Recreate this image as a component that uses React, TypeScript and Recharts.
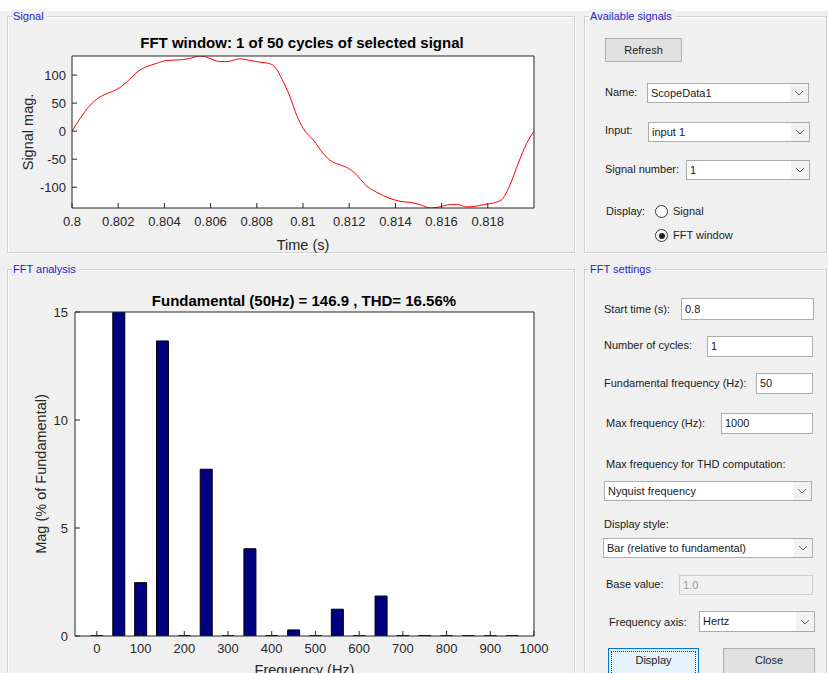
import React from "react"
import { Bar, BarChart, CartesianGrid, Line, LineChart, XAxis, YAxis } from "recharts"

// signal window (one cycle starting at 0.8 s)
const timeS = [
	0.8, 0.80035, 0.80078, 0.80121, 0.80157, 0.80193, 0.80237, 0.80287, 0.80323, 0.80367,
	0.8041, 0.8046, 0.80504, 0.80554, 0.80583, 0.80612, 0.80641, 0.8067, 0.80727, 0.8077,
	0.80814, 0.8085, 0.80879, 0.80908, 0.80944, 0.80973, 0.81001, 0.81045, 0.81088, 0.81124,
	0.8116, 0.81196, 0.81225, 0.81276, 0.81319, 0.81377, 0.8142, 0.81463, 0.81507, 0.8155,
	0.81593, 0.81636, 0.81672, 0.81709, 0.81745, 0.81781, 0.81824, 0.8186, 0.81896, 0.81932,
	0.81968, 0.82,
]
const signalMag = [
	0, 22.5, 46, 61, 68, 74, 87.6, 107, 115, 121,
	126, 127, 129, 134, 132, 127, 124, 124, 129, 126,
	123, 121, 114, 93.5, 61, 28, 4.7, -16, -40, -54,
	-60, -66, -75, -98, -109, -120, -125, -127, -131, -137,
	-135, -131, -131, -135, -134, -131, -128, -122, -96, -57,
	-22, 0,
]
const timeTicks = [0.8, 0.802, 0.804, 0.806, 0.808, 0.81, 0.812, 0.814, 0.816, 0.818]
const signalTicks = [-100, -50, 0, 50, 100]

// harmonic spectrum, % of fundamental
const freqHz = [0, 50, 100, 150, 200, 250, 300, 350, 400, 450, 500, 550, 600, 650, 700, 750, 800, 850, 900, 950]
const magPct = [0.01, 100, 2.47, 13.66, 0.01, 7.72, 0.01, 4.04, 0.02, 0.28, 0.01, 1.24, 0.01, 1.85, 0.02, 0.02, 0.01, 0.01, 0.01, 0.01]
const freqTicks = [0, 100, 200, 300, 400, 500, 600, 700, 800, 900, 1000]
const pctTicks = [0, 5, 10, 15]

const signalData = timeS.map((t, i) => ({ t, v: signalMag[i] }))
const fftData = freqHz.map((f, i) => ({ f, mag: magPct[i] }))

const plotFont = '"Liberation Sans", Arial, Helvetica, sans-serif'
const axisColor = "#262626"
const tickStyle = { fill: axisColor, fontSize: 13, fontFamily: plotFont }
const labelStyle = { fill: axisColor, fontSize: 14.5, fontFamily: plotFont }

const ui: React.CSSProperties = {
	fontFamily: '"Liberation Sans", Arial, sans-serif',
	fontSize: 11,
	color: "#1a1a1a",
}

function Txt({ x, y, children, color }: { x: number; y: number; children: React.ReactNode; color?: string }) {
	return (
		<div style={{ ...ui, position: "absolute", left: x, top: y - 7, lineHeight: "14px", whiteSpace: "nowrap", color: color || ui.color }}>
			{children}
		</div>
	)
}

function Panel({ x, y, w, h, title }: { x: number; y: number; w: number; h: number; title: string }) {
	return (
		<div
			style={{
				position: "absolute",
				left: x,
				top: y,
				width: w,
				height: h,
				border: "1px solid #cfcfcf",
				boxShadow: "inset 1px 1px 0 #fff, 1px 1px 0 #fff",
				boxSizing: "border-box",
			}}
		>
			<div
				style={{
					...ui,
					position: "absolute",
					left: 4,
					top: -8,
					padding: "0 3px 0 1px",
					background: "#f0f0f0",
					color: "#2424c8",
					lineHeight: "14px",
				}}
			>
				{title}
			</div>
		</div>
	)
}

function Chevron() {
	return (
		<svg width={10} height={6} style={{ display: "block" }}>
			<polyline points="1,1 5,5 9,1" fill="none" stroke="#666" strokeWidth={1} />
		</svg>
	)
}

function DropDown({ x, y, w, h, text }: { x: number; y: number; w: number; h: number; text: string }) {
	return (
		<div
			style={{
				position: "absolute",
				left: x,
				top: y,
				width: w,
				height: h,
				border: "1px solid #acacac",
				background: "#fff",
				boxSizing: "border-box",
			}}
		>
			<div style={{ ...ui, position: "absolute", left: 3, top: 0, lineHeight: `${h - 2}px` }}>{text}</div>
			<div
				style={{
					position: "absolute",
					right: 0,
					top: 0,
					width: 18,
					height: h - 2,
					background: "#f2f2f2",
					display: "flex",
					alignItems: "center",
					justifyContent: "center",
				}}
			>
				<Chevron />
			</div>
		</div>
	)
}

function TextBox({ x, y, w, h, text, disabled }: { x: number; y: number; w: number; h: number; text: string; disabled?: boolean }) {
	return (
		<div
			style={{
				position: "absolute",
				left: x,
				top: y,
				width: w,
				height: h,
				border: disabled ? "1px solid #cccccc" : "1px solid #acacac",
				background: disabled ? "#f0f0f0" : "#fff",
				boxSizing: "border-box",
			}}
		>
			<div style={{ ...ui, position: "absolute", left: 3, top: 0, lineHeight: `${h - 2}px`, color: disabled ? "#9a9a9a" : ui.color }}>
				{text}
			</div>
		</div>
	)
}

function Button({ x, y, w, h, text, focused }: { x: number; y: number; w: number; h: number; text: string; focused?: boolean }) {
	return (
		<div
			style={{
				position: "absolute",
				left: x,
				top: y,
				width: w,
				height: h,
				border: focused ? "1px solid #0078d7" : "1px solid #adadad",
				background: focused ? "#e5f1fb" : "#e1e1e1",
				boxSizing: "border-box",
			}}
		>
			{focused && (
				<div style={{ position: "absolute", left: 2, top: 2, right: 2, bottom: 2, border: "1px dotted #333" }} />
			)}
			<div style={{ ...ui, position: "absolute", left: 0, right: 0, top: 0, textAlign: "center", lineHeight: "22px" }}>{text}</div>
		</div>
	)
}

function Radio({ x, y, checked }: { x: number; y: number; checked?: boolean }) {
	return (
		<div
			style={{
				position: "absolute",
				left: x - 6,
				top: y - 6,
				width: 13,
				height: 13,
				borderRadius: "50%",
				border: "1px solid #333",
				background: "#fff",
				boxSizing: "border-box",
			}}
		>
			{checked && (
				<div style={{ position: "absolute", left: 2.5, top: 2.5, width: 6, height: 6, borderRadius: "50%", background: "#222" }} />
			)}
		</div>
	)
}

function SignalPlot() {
	return (
		<div style={{ position: "absolute", left: 0, top: 30 }}>
			<LineChart width={580} height={235} data={signalData} margin={{ top: 25, right: 45, bottom: 12, left: 0 }}>
				<CartesianGrid horizontal={false} vertical={false} fill="#fff" fillOpacity={1} />
				<XAxis
					dataKey="t"
					type="number"
					domain={[0.8, 0.82]}
					ticks={timeTicks}
					allowDataOverflow
					height={45}
					tickSize={-5}
					tickMargin={14}
					tick={tickStyle}
					tickFormatter={(v: number) => String(+v.toFixed(3))}
					stroke={axisColor}
					label={{ value: "Time (s)", position: "insideBottom", offset: 3, style: labelStyle }}
				/>
				<XAxis xAxisId="top" orientation="top" dataKey="t" type="number" domain={[0.8, 0.82]} ticks={timeTicks} allowDataOverflow height={1} tickSize={-5} tick={false} stroke={axisColor} />
				<YAxis
					type="number"
					domain={[-137, 134]}
					ticks={signalTicks}
					allowDataOverflow
					width={72}
					tickSize={-5}
					tickMargin={11}
					tick={tickStyle}
					stroke={axisColor}
					label={{ value: "Signal mag.", angle: -90, position: "insideLeft", offset: 28, style: { ...labelStyle, textAnchor: "middle" } }}
				/>
				<YAxis yAxisId="r" orientation="right" type="number" domain={[-137, 134]} ticks={signalTicks} allowDataOverflow width={1} tickSize={-5} tick={false} stroke={axisColor} />
				<Line dataKey="v" type="monotone" stroke="#ff0000" strokeWidth={1} dot={false} isAnimationActive={false} />
			</LineChart>
		</div>
	)
}

function FftPlot() {
	return (
		<div style={{ position: "absolute", left: 0, top: 280 }}>
			<BarChart width={580} height={400} data={fftData} margin={{ top: 31, right: 45, bottom: 0, left: 0 }}>
				<CartesianGrid horizontal={false} vertical={false} fill="#fff" fillOpacity={1} />
				<XAxis
					dataKey="f"
					type="number"
					domain={[-50, 1000]}
					ticks={freqTicks}
					allowDataOverflow
					height={44}
					tickSize={-5}
					tickMargin={13}
					tick={tickStyle}
					stroke={axisColor}
					label={{ value: "Frequency (Hz)", position: "insideBottom", offset: 5, style: labelStyle }}
				/>
				<XAxis xAxisId="top" orientation="top" dataKey="f" type="number" domain={[-50, 1000]} ticks={freqTicks} allowDataOverflow height={1} tickSize={-5} tick={false} stroke={axisColor} />
				<YAxis
					type="number"
					domain={[0, 15]}
					ticks={pctTicks}
					allowDataOverflow
					width={75}
					tickSize={-5}
					tickMargin={12}
					tick={tickStyle}
					stroke={axisColor}
					label={{ value: "Mag (% of Fundamental)", angle: -90, position: "insideLeft", offset: 41, style: { ...labelStyle, textAnchor: "middle" } }}
				/>
				<YAxis yAxisId="r" orientation="right" type="number" domain={[0, 15]} ticks={pctTicks} allowDataOverflow width={1} tickSize={-5} tick={false} stroke={axisColor} />
				<Bar dataKey="mag" barSize={12} fill="#000080" stroke="#000" strokeWidth={1} isAnimationActive={false} />
			</BarChart>
		</div>
	)
}

const titleStyle: React.CSSProperties = {
	position: "absolute",
	fontFamily: plotFont,
	fontWeight: "bold",
	fontSize: 15,
	color: "#000",
	whiteSpace: "nowrap",
	transform: "translate(-50%, -50%)",
	lineHeight: "18px",
}

export default function App() {
	return (
		<div style={{ position: "absolute", left: 0, top: 0, width: 828, height: 673, overflow: "hidden", background: "#f0f0f0" }}>
			<div style={{ position: "absolute", left: 0, top: 0, width: 828, height: 11, background: "#fff" }} />

			<Panel x={7} y={16} w={568} h={237} title="Signal" />
			<Panel x={584} y={16} w={243} h={237} title="Available signals" />
			<Panel x={7} y={269} w={568} h={420} title="FFT analysis" />
			<Panel x={584} y={269} w={243} h={420} title="FFT settings" />

			<SignalPlot />
			<div style={{ ...titleStyle, left: 302, top: 43 }}>FFT window: 1 of 50 cycles of selected signal</div>

			<FftPlot />
			<div style={{ ...titleStyle, left: 304, top: 301 }}>Fundamental (50Hz) = 146.9 , THD= 16.56%</div>

			{/* Available signals */}
			<Button x={605} y={38} w={77} h={24} text="Refresh" />
			<Txt x={605} y={92}>Name:</Txt>
			<DropDown x={647} y={83} w={162} h={20} text="ScopeData1" />
			<Txt x={605} y={130}>Input:</Txt>
			<DropDown x={648} y={122} w={162} h={20} text="input 1" />
			<Txt x={605} y={169}>Signal number:</Txt>
			<DropDown x={686} y={160} w={124} h={20} text="1" />
			<Txt x={606} y={211}>Display:</Txt>
			<Radio x={661} y={211} />
			<Txt x={673} y={211}>Signal</Txt>
			<Radio x={661} y={235} checked />
			<Txt x={673} y={235}>FFT window</Txt>

			{/* FFT settings */}
			<Txt x={604} y={309}>Start time (s):</Txt>
			<TextBox x={681} y={298} w={133} h={22} text="0.8" />
			<Txt x={604} y={345}>Number of cycles:</Txt>
			<TextBox x={707} y={336} w={106} h={21} text="1" />
			<Txt x={604} y={383}>Fundamental frequency (Hz):</Txt>
			<TextBox x={756} y={373} w={57} h={21} text="50" />
			<Txt x={606} y={423}>Max frequency (Hz):</Txt>
			<TextBox x={721} y={413} w={92} h={21} text="1000" />
			<Txt x={606} y={464}>Max frequency for THD computation:</Txt>
			<DropDown x={604} y={481} w={208} h={20} text="Nyquist frequency" />
			<Txt x={604} y={524}>Display style:</Txt>
			<DropDown x={603} y={538} w={210} h={20} text="Bar (relative to fundamental)" />
			<Txt x={606} y={584}>Base value:</Txt>
			<TextBox x={679} y={575} w={134} h={20} text="1.0" disabled />
			<Txt x={609} y={622}>Frequency axis:</Txt>
			<DropDown x={699} y={611} w={116} h={21} text="Hertz" />
			<Button x={608} y={648} w={91} h={30} text="Display" focused />
			<Button x={723} y={648} w={92} h={30} text="Close" />
		</div>
	)
}
